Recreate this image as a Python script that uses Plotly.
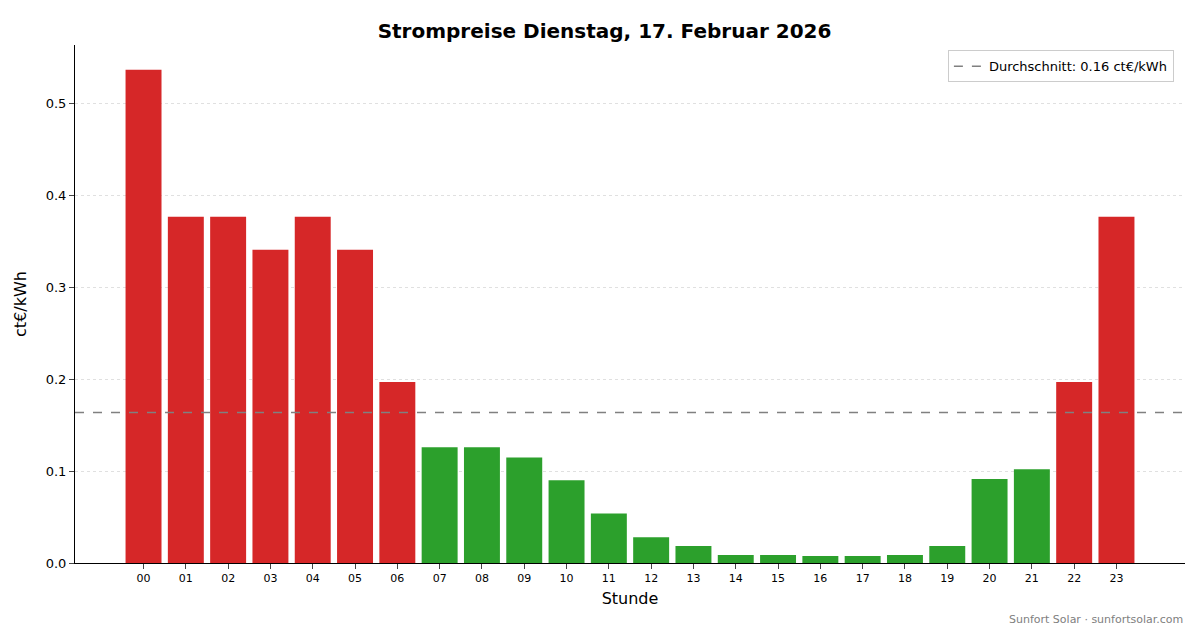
import plotly.graph_objects as go

hours = [f"{h:02d}" for h in range(24)]
prices = [0.537, 0.377, 0.377, 0.341, 0.377, 0.341, 0.197, 0.126, 0.126, 0.115, 0.090, 0.054,
          0.028, 0.0185, 0.0087, 0.0087, 0.0076, 0.0076, 0.0087, 0.0185, 0.0915, 0.102, 0.197, 0.377]
mean = sum(prices) / len(prices)
colors = ["#d62728" if p > mean else "#2ca02c" for p in prices]
xs = list(range(24))

fig = go.Figure()
fig.add_trace(go.Bar(x=xs, y=prices, marker=dict(color=colors, line=dict(width=0)), showlegend=False))
fig.add_trace(go.Scatter(x=[-1.62, 24.62], y=[mean, mean], mode="lines",
                         line=dict(color="gray", dash="dash", width=1.5),
                         name=f"Durchschnitt: {mean:.2f} ct€/kWh"))
fig.update_layout(
    width=1193, height=628, plot_bgcolor="white", paper_bgcolor="white",
    font=dict(family="DejaVu Sans", color="black", size=13),
    title=dict(text="<b>Strompreise Dienstag, 17. Februar 2026</b>", x=0.5, y=0.975, font=dict(size=20)),
    margin=dict(l=55, r=16, t=37, b=73), bargap=0.15,
    legend=dict(x=0.99, y=0.99, xanchor="right", yanchor="top", bordercolor="#ccc", borderwidth=1,
                bgcolor="rgba(255,255,255,0.8)", font=dict(size=13)),
    annotations=[dict(text="Sunfort Solar · sunfortsolar.com", xref="paper", yref="paper", x=1.0, y=-0.125,
                      xanchor="right", yanchor="bottom", showarrow=False, font=dict(size=11, color="gray"))],
)
fig.update_xaxes(range=[-1.62, 24.62], tickvals=xs, ticktext=hours, tickfont=dict(size=11),
                 title=dict(text="Stunde", font=dict(size=16), standoff=8), showline=True, linecolor="black",
                 ticks="outside", showgrid=False, zeroline=False)
fig.update_yaxes(range=[0, 0.564], dtick=0.1, tickformat=".1f", title=dict(text="ct€/kWh", font=dict(size=16)),
                 showline=True, linecolor="black", ticks="outside", gridcolor="#e0e0e0", griddash="dot",
                 zeroline=False)
fig.write_html("out.html")
